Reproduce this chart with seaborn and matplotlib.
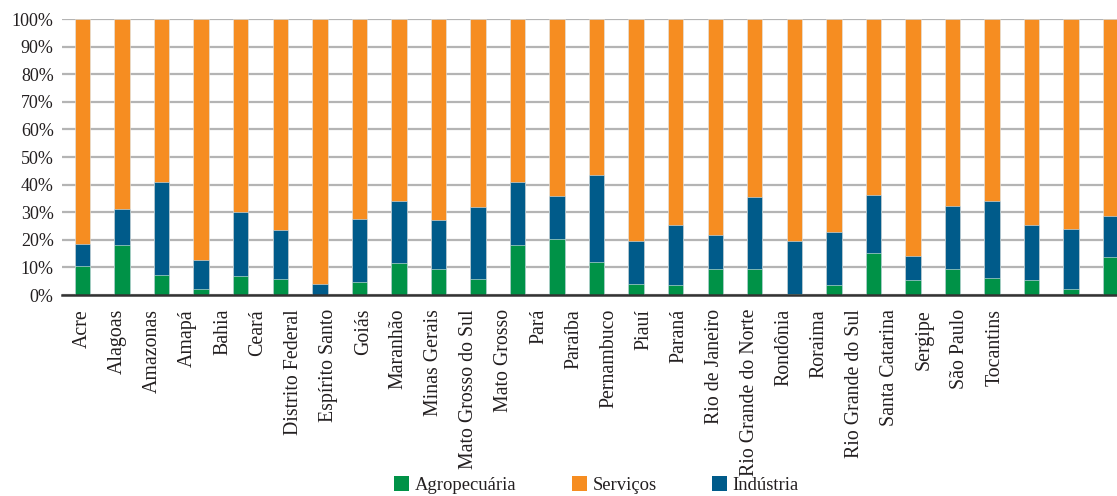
import numpy as np
import pandas as pd
import matplotlib
matplotlib.use("Agg")
import matplotlib.pyplot as plt
import matplotlib.patches as mpatches
import seaborn as sns

estados = ["Acre", "Alagoas", "Amazonas", "Amapá", "Bahia", "Ceará",
           "Distrito Federal", "Espírito Santo", "Goiás", "Maranhão",
           "Minas Gerais", "Mato Grosso do Sul", "Mato Grosso", "Pará",
           "Paraíba", "Pernambuco", "Piauí", "Paraná", "Rio de Janeiro",
           "Rio Grande do Norte", "Rondônia", "Roraima", "Rio Grande do Sul",
           "Santa Catarina", "Sergipe", "São Paulo", "Tocantins"]

# 27 bars in the original (labels drawn with a different spacing)
agropecuaria = [10.4, 18.1, 7.3, 2.2, 6.9, 5.8, 0.0, 4.7, 11.6, 9.6,
                5.8, 18.1, 20.4, 11.9, 4.0, 3.7, 9.4, 9.6, 0.3, 3.7,
                15.2, 5.4, 9.4, 6.2, 5.4, 2.2, 13.8]
industria_top = [18.6, 31.0, 41.1, 12.8, 30.0, 23.5, 4.1, 27.6, 33.9, 27.0,
                 32.0, 40.9, 35.8, 43.5, 19.5, 25.2, 21.9, 35.6, 19.7, 23.0,
                 36.4, 14.1, 32.2, 34.0, 25.2, 23.8, 28.8]
industria = [round(t - a, 1) for t, a in zip(industria_top, agropecuaria)]
servicos = [round(100 - a - i, 1) for a, i in zip(agropecuaria, industria)]

series = ["Agropecuária", "Serviços", "Indústria"]
cores = {"Agropecuária": "#009247", "Serviços": "#F68D21", "Indústria": "#005B8A"}

n = len(agropecuaria)
df = pd.DataFrame({
    "pos": [f"b{i}" for i in range(n)],
    "Agropecuária": agropecuaria,
    "Indústria": industria,
    "Serviços": servicos,
})
df["cum_ind"] = df["Agropecuária"] + df["Indústria"]
df["cum_serv"] = df["cum_ind"] + df["Serviços"]

sns.set_theme(style="white")
plt.rcParams["font.family"] = ["Liberation Serif", "DejaVu Serif"]

fig = plt.figure(figsize=(11.17, 4.96), dpi=100)
ax = fig.add_axes([62 / 1117, 1 - 295 / 496, 1 - 62 / 1117, (295 - 19) / 496])

kw = dict(width=0.39, edgecolor="#dfe8ee", linewidth=0.4, ax=ax, zorder=3)
sns.barplot(data=df, x="pos", y="cum_serv", color=cores["Serviços"], saturation=1, **kw)
sns.barplot(data=df, x="pos", y="cum_ind", color=cores["Indústria"], saturation=1, **kw)
sns.barplot(data=df, x="pos", y="Agropecuária", color=cores["Agropecuária"], saturation=1, **kw)

ax.set_xlim(-0.52, 26.16)
ax.set_ylim(0, 100)
ax.set_yticks(np.arange(0, 101, 10))
ax.set_yticklabels([f"{v}%" for v in range(0, 101, 10)], fontsize=13, color="#231f20")
ax.yaxis.grid(True, color="#b4b4b4", linewidth=1.6, zorder=0)
ax.set_axisbelow(True)

label_step = 35.08 / 39.54
ax.set_xticks([i * label_step for i in range(len(estados))])
ax.set_xticklabels(estados, rotation=90, fontsize=14.3, color="#231f20", va="top")
ax.tick_params(axis="both", length=0)
ax.tick_params(axis="y", pad=6)
ax.tick_params(axis="x", pad=10)
ax.set_xlabel("")
ax.set_ylabel("")

for s in ["top", "right", "left"]:
    ax.spines[s].set_visible(False)
ax.spines["bottom"].set_color("#333333")
ax.spines["bottom"].set_linewidth(1.8)
ax.spines["bottom"].set_zorder(5)

handles = [mpatches.Patch(facecolor=cores[s], edgecolor="none", label=s) for s in series]
fig.legend(handles=handles, loc="center", bbox_to_anchor=(0.534, 0.022), ncol=3,
           frameon=False, fontsize=13.4, handlelength=0.8, handleheight=0.8,
           handletextpad=0.3, columnspacing=3.0, labelcolor="#231f20",
           borderpad=0.1)

fig.savefig("out.png", dpi=100)
